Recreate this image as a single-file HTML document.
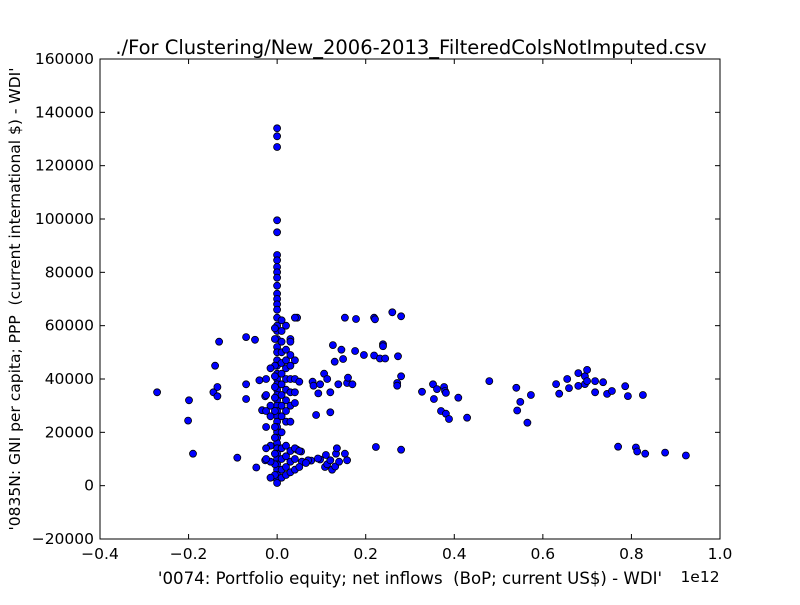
<!DOCTYPE html>
<html><head><meta charset="utf-8"><style>
html,body{margin:0;padding:0;background:#fff;}
svg text{font-family:"DejaVu Sans","Liberation Sans",sans-serif;fill:#000;white-space:pre;}
</style></head><body>
<svg id="chart" width="800" height="600" viewBox="0 0 800 600" xmlns="http://www.w3.org/2000/svg">
<rect x="0" y="0" width="800" height="600" fill="#fff"/>
<text x="411" y="54" font-size="19.5" text-anchor="middle">./For Clustering/New_2006-2013_FilteredColsNotImputed.csv</text>
<text x="410" y="584" font-size="16.6" text-anchor="middle">'0074: Portfolio equity; net inflows &#160;(BoP; current US$) - WDI'</text>
<text x="700" y="582" font-size="15.5" text-anchor="middle">1e12</text>
<text transform="translate(20,299) rotate(-90)" font-size="15.5" text-anchor="middle">'0835N: GNI per capita; PPP &#160;(current international $) - WDI'</text>
<g id="marks"></g>
<g id="axes"></g>
</svg>
<script>
const xTicks = [-0.4, -0.2, 0.0, 0.2, 0.4, 0.6, 0.8, 1.0];
const xTickLabels = ["\u22120.4", "\u22120.2", "0.0", "0.2", "0.4", "0.6", "0.8", "1.0"];
const yTicks = [-20000, 0, 20000, 40000, 60000, 80000, 100000, 120000, 140000, 160000];
const yTickLabels = ["\u221220000", "0", "20000", "40000", "60000", "80000", "100000", "120000", "140000", "160000"];
const xValues = [
-0.271,-0.199,-0.201,-0.19,-0.144,-0.14,-0.135,-0.131,-0.135,-0.09,-0.07,-0.07,-0.07,-0.05,-0.04,-0.047,-0.034,-0.027,-0.027,
0.045,0.03,0.08,0.082,0.088,0.093,0.097,0.106,0.113,0.12,0.12,0.126,0.13,0.138,0.145,0.149,0.153,0.158,0.16,0.17,0.176,0.178,0.196,0.219,0.221,0.219,0.223,0.232,0.239,0.239,0.244,0.26,0.271,0.271,0.273,0.28,0.28,0.28,
0.327,0.352,0.354,0.361,0.377,0.37,0.379,0.381,0.388,0.381,0.409,0.429,0.479,0.54,0.542,0.549,0.565,0.573,0.63,0.637,0.655,0.659,0.68,0.68,0.695,0.695,0.7,0.7,0.718,0.718,0.736,0.745,0.756,0.77,0.786,0.792,0.81,0.813,0.826,0.831,0.876,0.923,
0.045,0.054,0.056,0.077,0.097,0.092,0.108,0.113,0.12,0.124,0.131,0.133,0.135,0.14,0.153,0.158,0.07,0.065,0.11,
0,0,0,0,0,0,0,0,0,0,0,0,0,0,0,0,0,0,0,0,0,0,0,0,0,0,0,0,0,0,0,0,0,0,0,0,0,0,0,0,0,0,0,0,0,
-0.005,-0.005,-0.005,-0.005,-0.005,-0.005,-0.005,-0.005,-0.005,-0.005,-0.005,-0.005,
0.01,0.01,0.01,0.01,0.01,0.01,0.01,0.01,0.01,0.01,0.01,0.01,0.01,0.01,0.01,
0.02,0.02,0.02,0.02,0.02,0.02,0.02,0.02,0.02,0.02,0.02,0.02,0.02,
0.03,0.03,0.03,0.03,0.03,0.03,0.03,0.03,0.03,0.03,
0.04,0.04,0.04,0.04,0.04,0.04,0.04,0.04,
0.05,0.05,0.05,
-0.015,-0.015,-0.015,-0.015,-0.015,-0.015,
-0.025,-0.025,-0.025,-0.025,-0.025,-0.025
];
const yValues = [
35000,32000,24400,12000,35000,45000,37000,54000,33500,10500,55700,38000,32500,54700,39500,6800,28300,33500,9500,
63000,55000,39000,37500,26500,34600,38000,42000,40000,27500,35000,52700,46500,38000,51000,47500,63000,38500,40500,38000,50500,62500,49000,63000,62400,48800,14500,47700,53000,52300,47700,65000,38500,37500,48500,63500,41000,13500,
35200,38000,32500,36200,37000,28000,35500,27000,25000,34800,33000,25500,39200,36700,28200,31400,23600,34000,38100,34500,40000,36600,42200,37400,38100,41000,43400,39200,39200,35000,38800,34400,35500,14600,37300,33600,14300,12800,34000,12000,12400,11300,
13500,12800,9000,9400,9800,10200,7000,8000,9500,6000,7200,12000,14000,9000,12000,9500,9500,8500,11500,
134000,131000,127000,99500,95000,86500,84500,82000,80000,78000,75000,72000,70000,68000,66000,63000,60000,58000,55000,52000,50000,47000,45000,42000,40000,38000,36000,34000,32000,30000,28000,26000,24000,22000,20000,18000,16000,14000,12000,10000,8000,6000,4000,2000,1000,
59000,55000,45000,41000,37000,33000,28000,22000,18000,12000,8000,4000,
62000,58000,54000,50000,46000,42000,38000,34000,30000,26000,20000,14000,10000,6000,3000,
60000,51000,47000,44000,40000,36000,32000,28000,24000,15000,11000,7000,4000,
54000,49000,45000,40000,35000,30000,24000,13000,9000,5000,
63000,47000,40000,35000,31000,14000,10000,6000,
39000,13000,7000,
44000,30000,26000,15000,9000,3000,
40000,34000,28000,22000,14000,10000
];
const L=100,R=720,T=59,B=539;
const xMin=-0.4,xMax=1.0,yMin=-20000,yMax=160000;
function sx(v){return L+(v-xMin)/(xMax-xMin)*(R-L);}
function sy(v){return B-(v-yMin)/(yMax-yMin)*(B-T);}
const NS="http://www.w3.org/2000/svg";
const marks=document.getElementById('marks');
for(let i=0;i<xValues.length;i++){
  const c=document.createElementNS(NS,'circle');
  c.setAttribute('cx',sx(xValues[i]).toFixed(1));
  c.setAttribute('cy',sy(yValues[i]).toFixed(1));
  c.setAttribute('r','3.5');
  c.setAttribute('fill','#0000ff');
  c.setAttribute('stroke','#000');
  c.setAttribute('stroke-width','0.8');
  
  
  marks.appendChild(c);
}
const axes=document.getElementById('axes');
const frame=document.createElementNS(NS,'rect');
frame.setAttribute('x',L);frame.setAttribute('y',T);frame.setAttribute('width',R-L);frame.setAttribute('height',B-T);
frame.setAttribute('fill','none');frame.setAttribute('stroke','#000');frame.setAttribute('stroke-width','1');


axes.appendChild(frame);
function line(x1,y1,x2,y2){const l=document.createElementNS(NS,'line');l.setAttribute('x1',x1);l.setAttribute('y1',y1);l.setAttribute('x2',x2);l.setAttribute('y2',y2);l.setAttribute('stroke','#000');l.setAttribute('stroke-width','1');return l;}
xTicks.forEach((v,i)=>{
  const x=sx(v);
  const t1=line(x,B,x,B-5);
  
  
  axes.appendChild(t1);
  const t2=line(x,T,x,T+5);
  
  
  axes.appendChild(t2);
  const tx=document.createElementNS(NS,'text');
  tx.setAttribute('x',x);tx.setAttribute('y',B+20);tx.setAttribute('font-size','15.5');tx.setAttribute('text-anchor','middle');
  tx.textContent=xTickLabels[i];
  
  
  axes.appendChild(tx);
});
yTicks.forEach((v,i)=>{
  const y=sy(v);
  const t1=line(L,y,L+5,y);
  
  
  axes.appendChild(t1);
  const t2=line(R,y,R-5,y);
  
  
  axes.appendChild(t2);
  const tx=document.createElementNS(NS,'text');
  tx.setAttribute('x',L-6);tx.setAttribute('y',y+5);tx.setAttribute('font-size','15.5');tx.setAttribute('text-anchor','end');
  tx.textContent=yTickLabels[i];
  
  
  axes.appendChild(tx);
});
</script>
</body></html>
